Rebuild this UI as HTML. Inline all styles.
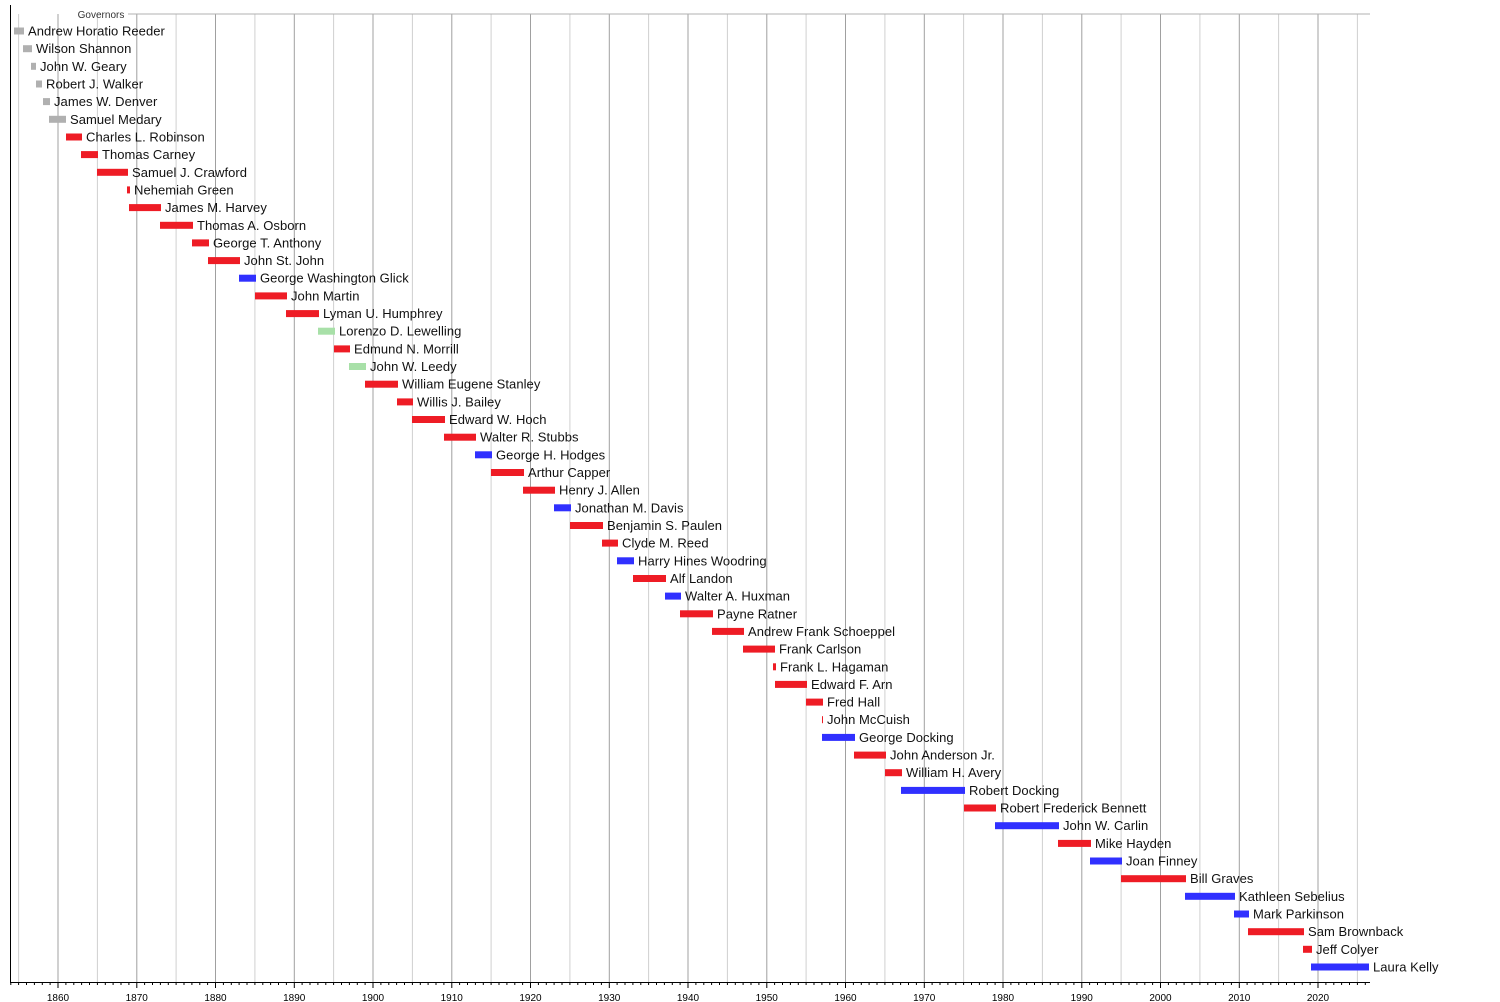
<!DOCTYPE html>
<html><head><meta charset="utf-8"><style>
html,body{margin:0;padding:0;background:#fff;}
svg{display:block;font-family:"Liberation Sans",sans-serif;}
</style></head><body>
<svg id="s" width="1500" height="1002" xmlns="http://www.w3.org/2000/svg"></svg>
<script>
const s=document.getElementById('s');
let h='';
const X=y=>58+(y-1860)*7.875;
for(let y=1855;y<=2025;y+=5){
  const x=X(y).toFixed(1);
  h+=`<line x1="${x}" y1="14" x2="${x}" y2="982" stroke="${y%10==0?'#a0a0a0':'#d0d0d0'}" stroke-width="1"/>`;
}
h+=`<line x1="128" y1="14" x2="1370" y2="14" stroke="#b0b0b0"/>`;
h+=`<text x="101" y="18" font-size="10" text-anchor="middle" fill="#333">Governors</text>`;
h+=`<line x1="10.5" y1="5" x2="10.5" y2="982" stroke="#000"/>`;
h+=`<line x1="10" y1="982.5" x2="1370" y2="982.5" stroke="#000"/>`;
for(let y=1854;y<=2026;y++){const x=X(y);if(x<10||x>1370)continue;
  h+=`<line x1="${x.toFixed(1)}" y1="982" x2="${x.toFixed(1)}" y2="${y%10==0?988:985}" stroke="#000"/>`;}
for(let y=1860;y<=2020;y+=10){h+=`<text x="${X(y)}" y="1001" font-size="10" text-anchor="middle" fill="#000">${y}</text>`;}
const G='#b0b0b0',R='#ee1c25',B='#3030ff',N='#a8e0a8';
const d=[["Andrew Horatio Reeder",14,24,G],["Wilson Shannon",23,32,G],["John W. Geary",31,36,G],["Robert J. Walker",36,42,G],["James W. Denver",43,50,G],["Samuel Medary",49,66,G],
["Charles L. Robinson",66,82,R],["Thomas Carney",81,98,R],["Samuel J. Crawford",97,128,R],["Nehemiah Green",127,130,R],["James M. Harvey",129,161,R],["Thomas A. Osborn",160,193,R],["George T. Anthony",192,209,R],["John St. John",208,240,R],["George Washington Glick",239,256,B],["John Martin",255,287,R],["Lyman U. Humphrey",286,319,R],["Lorenzo D. Lewelling",318,335,N],["Edmund N. Morrill",334,350,R],["John W. Leedy",349,366,N],["William Eugene Stanley",365,398,R],["Willis J. Bailey",397,413,R],["Edward W. Hoch",412,445,R],["Walter R. Stubbs",444,476,R],["George H. Hodges",475,492,B],["Arthur Capper",491,524,R],["Henry J. Allen",523,555,R],["Jonathan M. Davis",554,571,B],["Benjamin S. Paulen",570,603,R],["Clyde M. Reed",602,618,R],["Harry Hines Woodring",617,634,B],["Alf Landon",633,666,R],["Walter A. Huxman",665,681,B],["Payne Ratner",680,713,R],["Andrew Frank Schoeppel",712,744,R],["Frank Carlson",743,775,R],["Frank L. Hagaman",773,776,R],["Edward F. Arn",775,807,R],["Fred Hall",806,823,R],["John McCuish",822,823,R],["George Docking",822,855,B],["John Anderson Jr.",854,886,R],["William H. Avery",885,902,R],["Robert Docking",901,965,B],["Robert Frederick Bennett",964,996,R],["John W. Carlin",995,1059,B],["Mike Hayden",1058,1091,R],["Joan Finney",1090,1122,B],["Bill Graves",1121,1186,R],["Kathleen Sebelius",1185,1235,B],["Mark Parkinson",1234,1249,B],["Sam Brownback",1248,1304,R],["Jeff Colyer",1303,1312,R],["Laura Kelly",1311,1369,B]];
d.forEach((r,i)=>{const cy=31+i*17.66;
  h+=`<rect x="${r[1]}" y="${(cy-3.5).toFixed(1)}" width="${r[2]-r[1]}" height="7" fill="${r[3]}"/>`;
  h+=`<text x="${r[2]+4}" y="${(cy+4.5).toFixed(1)}" font-size="13" letter-spacing="0.05" fill="#111">${r[0]}</text>`;
});
s.innerHTML=h;
</script>
</body></html>
